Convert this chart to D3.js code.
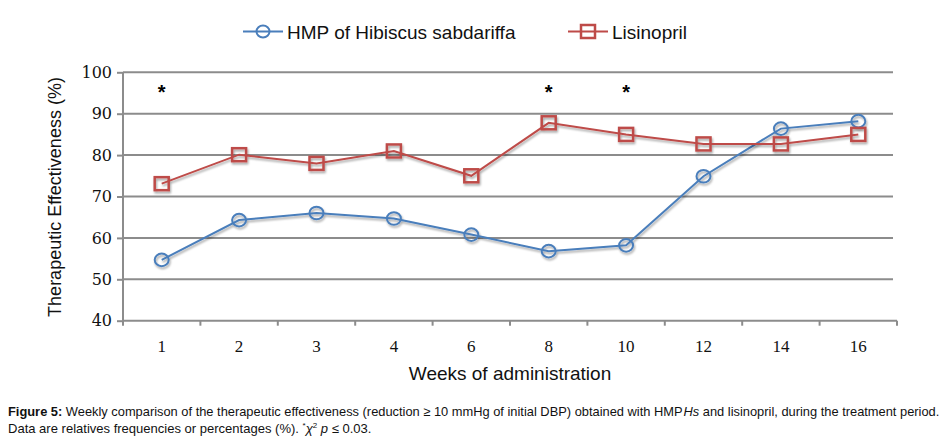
<!DOCTYPE html>
<html><head><meta charset="utf-8">
<script src="https://cdn.jsdelivr.net/npm/d3@7"></script>
<style>body{margin:0;background:#fff}svg{display:block}</style>
</head><body>
<script>
const weeks = ["1","2","3","4","6","8","10","12","14","16"];
const hmpValues = [54.7, 64.3, 66.0, 64.7, 60.8, 56.8, 58.2, 74.9, 86.4, 88.2];
const lisinoprilValues = [73.1, 80.1, 78.0, 81.0, 75.0, 87.8, 85.0, 82.7, 82.7, 85.0];
const significantWeeks = ["1","8","10"];
const yTicks = [40,50,60,70,80,90,100];
const seriesNames = ["HMP of Hibiscus sabdariffa","Lisinopril"];
const seriesColors = ["#4a7ebb","#be4b48"];

(function(){
const W=944,H=443;
const svg=d3.select("body").append("svg").attr("width",W).attr("height",H);
const defs=svg.append("defs");
const f=defs.append("filter").attr("id","sh").attr("x","-50%").attr("y","-50%").attr("width","200%").attr("height","200%");
f.append("feDropShadow").attr("dx",1).attr("dy",2).attr("stdDeviation",1.2).attr("flood-color","#000").attr("flood-opacity",0.35);

const pLeft=123,pRight=897,pTop=72.3,pBottom=320.7;
const x=d3.scaleBand().domain(weeks).range([pLeft,pRight]);
const y=d3.scaleLinear().domain([40,100]).range([pBottom,pTop]);
const grid="#8c8c8c";

svg.append("g").selectAll("line").data(yTicks.filter(t=>t>40)).join("line")
  .attr("x1",pLeft).attr("x2",893).attr("y1",d=>y(d)).attr("y2",d=>y(d))
  .attr("stroke",grid).attr("stroke-width",2);

const ya=svg.append("g").attr("transform",`translate(${pLeft},0)`)
  .call(d3.axisLeft(y).tickValues(yTicks).tickSize(6).tickPadding(5));
ya.select(".domain").attr("stroke",grid).attr("stroke-width",2).attr("d",`M0,${pTop}V${pBottom}`);
ya.selectAll(".tick line").attr("stroke",grid).attr("stroke-width",2);
ya.selectAll(".tick text").attr("font-family","DejaVu Serif").attr("font-size",16).attr("fill","#111");

const xa=svg.append("g").attr("transform",`translate(0,${pBottom})`)
  .call(d3.axisBottom(x).tickSize(0).tickPadding(19));
xa.select(".domain").attr("stroke",grid).attr("stroke-width",2).attr("d",`M${pLeft},0H${pRight}`);
xa.selectAll(".tick text").attr("font-family","Liberation Serif").attr("font-size",17).attr("fill","#111");
const bounds=weeks.map(w=>x(w)).concat([pRight]);
xa.append("g").selectAll("line").data(bounds).join("line")
  .attr("x1",d=>d).attr("x2",d=>d).attr("y1",0).attr("y2",5)
  .attr("stroke",grid).attr("stroke-width",2);

const cx=w=>x(w)+x.bandwidth()/2;
const series=[hmpValues,lisinoprilValues];
const line=d3.line().x((d,i)=>cx(weeks[i])).y(d=>y(d));
series.forEach((vals,si)=>{
  const g=svg.append("g").attr("filter","url(#sh)");
  g.append("path").datum(vals).attr("d",line).attr("fill","none")
    .attr("stroke",seriesColors[si]).attr("stroke-width",2);
  if(si===0){
    g.selectAll("ellipse").data(vals).join("ellipse")
      .attr("cx",(d,i)=>cx(weeks[i])).attr("cy",d=>y(d)).attr("rx",7).attr("ry",6.3)
      .attr("fill","none").attr("stroke",seriesColors[si]).attr("stroke-width",2);
  } else {
    g.selectAll("rect").data(vals).join("rect")
      .attr("x",(d,i)=>cx(weeks[i])-7).attr("y",d=>y(d)-6.5).attr("width",14).attr("height",13)
      .attr("fill","none").attr("stroke",seriesColors[si]).attr("stroke-width",2.5);
  }
});

svg.append("g").selectAll("text").data(significantWeeks).join("text")
  .attr("x",d=>cx(d)).attr("y",99).attr("text-anchor","middle")
  .attr("font-family","Liberation Sans").attr("font-size",20).attr("font-weight","bold").attr("fill","#000").text("*");

svg.append("text").attr("x",(pLeft+pRight)/2).attr("y",380).attr("text-anchor","middle")
  .attr("font-family","Liberation Sans").attr("font-size",19).attr("fill","#111").text("Weeks of administration");
svg.append("text").attr("transform",`translate(61,197) rotate(-90)`).attr("text-anchor","middle")
  .attr("font-family","Liberation Sans").attr("font-size",18).attr("fill","#111").text("Therapeutic Effectiveness (%)");

const lg=svg.append("g");
const legX=[243,568];
seriesNames.forEach((n,i)=>{
  const g=lg.append("g").attr("transform",`translate(${legX[i]},31.5)`);
  g.append("line").attr("x1",0).attr("x2",40).attr("stroke",seriesColors[i]).attr("stroke-width",2);
  if(i===0) g.append("ellipse").attr("cx",20).attr("cy",0).attr("rx",6.5).attr("ry",6).attr("fill","none").attr("stroke",seriesColors[i]).attr("stroke-width",2);
  else g.append("rect").attr("x",13).attr("y",-6.5).attr("width",14).attr("height",13).attr("fill","none").attr("stroke",seriesColors[i]).attr("stroke-width",2.5);
  g.append("text").attr("x",44).attr("y",7).attr("font-family","Liberation Sans").attr("font-size",19).attr("fill","#111").text(n);
});

const cap=svg.append("g").attr("font-family","Liberation Sans Narrow, Arial Narrow, Liberation Sans").attr("font-size",13).attr("fill","#111");
const t1=cap.append("text").attr("x",0).attr("y",0);
t1.append("tspan").attr("font-weight","bold").text("Figure 5:");
t1.append("tspan").text(" Weekly comparison of the therapeutic effectiveness (reduction ≥ 10 mmHg of initial DBP) obtained with HMP");
t1.append("tspan").attr("dx",1).attr("font-style","italic").text("Hs");
t1.append("tspan").text(" and lisinopril, during the treatment period.");
const l1=t1.node().getComputedTextLength();
t1.attr("transform",`translate(8,416) scale(${931/l1},1)`);
const t2=cap.append("text").attr("x",0).attr("y",0);
t2.append("tspan").text("Data are relatives frequencies or percentages (%). ");
t2.append("tspan").attr("font-size",8).attr("dy",-5).text("*");
t2.append("tspan").attr("dy",5).attr("font-style","italic").text("χ");
t2.append("tspan").attr("font-size",8).attr("dy",-5).text("2");
t2.append("tspan").attr("dy",5).text(" ");
t2.append("tspan").attr("font-style","italic").text("p");
t2.append("tspan").text(" ≤ 0.03.");
const l2=t2.node().getComputedTextLength();
t2.attr("transform",`translate(8,433) scale(${364/l2},1)`);
})();
</script>
</body></html>
